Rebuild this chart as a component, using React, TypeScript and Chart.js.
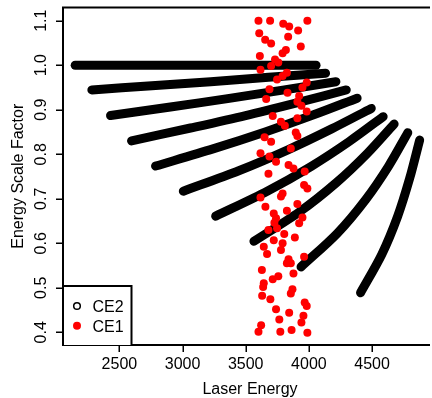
import React, { useEffect, useRef } from "react";
import { Chart, registerables } from "chart.js";

Chart.register(...registerables);

const xTicks = [2500, 3000, 3500, 4000, 4500];
const xTickLabels = ["2500", "3000", "3500", "4000", "4500"];
const yTicks = [0.4, 0.5, 0.6, 0.7, 0.8, 0.9, 1.0, 1.1];
const yTickLabels = ["0.4", "0.5", "0.6", "0.7", "0.8", "0.9", "1.0", "1.1"];
const seriesNames = ["CE2", "CE1"];
const xTitle = "Laser Energy";
const yTitle = "Energy Scale Factor";

// CE2: bands of points, read along each band (laser energy / scale factor)
const ce2LaserEnergy: number[][] = [
  [2150, 3100, 4057],
  [2282, 2757, 3223, 3681, 4132],
  [2430, 2904, 3357, 3793, 4214],
  [2596, 3063, 3499, 3909, 4296],
  [2786, 3241, 3654, 4032, 4382],
  [3006, 3445, 3834, 4180, 4494],
  [3262, 3670, 4019, 4321, 4588],
  [3565, 3923, 4217, 4463, 4675],
  [3938, 4225, 4449, 4630, 4783],
  [4409, 4577, 4702, 4798, 4877],
];
const ce2ScaleFactor: number[][] = [
  [1.0, 1.0, 1.0],
  [0.9445, 0.954, 0.963, 0.973, 0.982],
  [0.887, 0.906, 0.925, 0.944, 0.963],
  [0.83, 0.859, 0.887, 0.916, 0.9445],
  [0.7735, 0.812, 0.85, 0.888, 0.926],
  [0.717, 0.763, 0.81, 0.857, 0.903],
  [0.661, 0.717, 0.773, 0.829, 0.8845],
  [0.6045, 0.67, 0.736, 0.802, 0.868],
  [0.547, 0.6225, 0.698, 0.773, 0.8485],
  [0.489, 0.575, 0.66, 0.746, 0.832],
];

// CE1: individual points
const ce1LaserEnergy = [
  3601, 3693, 3797, 3844, 3988, 3607, 3915, 3836, 3654, 3701, 3936, 3612, 3818, 3792, 3732, 3758,
  3701, 3617, 3826, 3792, 3748, 3983, 3949, 3688, 3831, 3923, 3662, 3909, 3941, 3983, 3714, 3909,
  3779, 3810, 3896, 3909, 3649, 3701, 3617, 3688, 3857, 3740, 3839, 3878, 3967, 3680, 3988, 3962,
  3792, 3779, 3617, 3656, 3909, 3826, 3722, 3740, 3727, 3748, 3680, 3923, 3949, 3805, 3722, 3889,
  3643, 3669, 3792, 3779, 3962, 3839, 3857, 3826, 3878, 3628, 3714, 3758, 3643, 3638, 3870, 3857,
  3630, 3695, 3967, 3983, 3740, 3844, 3957, 3766, 3941, 3622, 3601, 3774, 3863, 3988,
];
const ce1ScaleFactor = [
  1.1, 1.1, 1.093, 1.087, 1.1, 1.072, 1.078, 1.064, 1.057, 1.049, 1.042, 1.021, 1.034, 1.027, 1.013, 1.006,
  0.998, 0.99, 0.983, 0.976, 0.968, 0.961, 0.95, 0.946, 0.938, 0.931, 0.924, 0.918, 0.909, 0.896, 0.886, 0.881,
  0.873, 0.864, 0.849, 0.841, 0.838, 0.828, 0.802, 0.795, 0.813, 0.783, 0.776, 0.768, 0.761, 0.756, 0.723, 0.731,
  0.712, 0.705, 0.703, 0.682, 0.688, 0.673, 0.667, 0.656, 0.646, 0.634, 0.63, 0.645, 0.658, 0.621, 0.607, 0.613,
  0.592, 0.576, 0.6, 0.585, 0.57, 0.564, 0.555, 0.555, 0.532, 0.54, 0.519, 0.526, 0.51, 0.502, 0.497, 0.487,
  0.482, 0.474, 0.467, 0.459, 0.452, 0.444, 0.437, 0.429, 0.422, 0.416, 0.401, 0.401, 0.405, 0.399,
];

const FONT = "16px 'Liberation Sans', Arial, Helvetica, sans-serif";

const rAxesPlugin = {
  id: "rAxes",
  afterDraw(chart: any) {
    const ctx = chart.ctx as CanvasRenderingContext2D;
    const { left, top, right, bottom } = chart.chartArea;
    const xs = chart.scales.x;
    const ys = chart.scales.y;
    ctx.save();
    ctx.strokeStyle = "#000";
    ctx.fillStyle = "#000";
    // box (left, top, bottom)
    ctx.lineWidth = 2;
    ctx.beginPath();
    ctx.moveTo(right + 2, top);
    ctx.lineTo(left, top);
    ctx.lineTo(left, bottom);
    ctx.lineTo(right + 2, bottom);
    ctx.stroke();
    // ticks
    ctx.lineWidth = 1.5;
    ctx.beginPath();
    xTicks.forEach((v) => {
      const px = Math.round(xs.getPixelForValue(v)) + 0.25;
      ctx.moveTo(px, bottom);
      ctx.lineTo(px, bottom + 7);
    });
    yTicks.forEach((v) => {
      const py = Math.round(ys.getPixelForValue(v)) + 0.25;
      ctx.moveTo(left, py);
      ctx.lineTo(left - 7, py);
    });
    ctx.stroke();
    // tick labels
    ctx.font = FONT;
    ctx.textAlign = "center";
    ctx.textBaseline = "alphabetic";
    xTicks.forEach((v, i) => {
      ctx.fillText(xTickLabels[i], xs.getPixelForValue(v), 369);
    });
    yTicks.forEach((v, i) => {
      ctx.save();
      ctx.translate(46, ys.getPixelForValue(v));
      ctx.rotate(-Math.PI / 2);
      ctx.fillText(yTickLabels[i], 0, 0);
      ctx.restore();
    });
    // titles
    ctx.fillText(xTitle, (left + 437) / 2, 394);
    ctx.save();
    ctx.translate(22.5, (top + bottom) / 2);
    ctx.rotate(-Math.PI / 2);
    ctx.fillText(yTitle, 0, 0);
    ctx.restore();
    // legend
    const lx0 = left, ly0 = 286, lx1 = 131.5, ly1 = bottom;
    ctx.fillStyle = "#fff";
    ctx.fillRect(lx0 + 1, ly0, lx1 - lx0 - 1, ly1 - ly0);
    ctx.lineWidth = 2;
    ctx.beginPath();
    ctx.moveTo(lx0, ly0);
    ctx.lineTo(lx1, ly0);
    ctx.lineTo(lx1, ly1);
    ctx.stroke();
    ctx.lineWidth = 1.5;
    ctx.beginPath();
    ctx.arc(77, 306, 3.3, 0, Math.PI * 2);
    ctx.stroke();
    ctx.fillStyle = "#ff0000";
    ctx.beginPath();
    ctx.arc(77, 325.7, 4, 0, Math.PI * 2);
    ctx.fill();
    ctx.fillStyle = "#000";
    ctx.textAlign = "left";
    ctx.fillText(seriesNames[0], 92.5, 311.7);
    ctx.fillText(seriesNames[1], 92.5, 331.5);
    ctx.restore();
  },
};

export default function App() {
  const ref = useRef<HTMLCanvasElement | null>(null);
  useEffect(() => {
    document.body.style.margin = "0";
    const canvas = ref.current;
    if (!canvas) return;
    const curveSets = ce2LaserEnergy.map((xsArr, i) => ({
      label: seriesNames[0],
      data: xsArr.map((x, j) => ({ x, y: ce2ScaleFactor[i][j] })),
      showLine: true,
      borderColor: "#000",
      backgroundColor: "#000",
      borderWidth: 9,
      borderCapStyle: "round" as const,
      borderJoinStyle: "round" as const,
      pointRadius: 0,
      tension: 0.3,
      order: 1,
    }));
    const chart = new Chart(canvas, {
      type: "scatter",
      data: {
        datasets: [
          {
            label: seriesNames[1],
            data: ce1LaserEnergy.map((x, i) => ({ x, y: ce1ScaleFactor[i] })),
            backgroundColor: "#ff0000",
            borderColor: "#ff0000",
            borderWidth: 0,
            pointRadius: 4,
            order: 0,
          },
          ...curveSets,
        ],
      },
      options: {
        responsive: false,
        animation: false,
        devicePixelRatio: 1,
        layout: { padding: { left: 63, top: 7.5, right: 0, bottom: 53 } },
        plugins: { legend: { display: false }, tooltip: { enabled: false } },
        scales: {
          x: { type: "linear", display: false, min: 2053.6, max: 4943, bounds: "data" },
          y: { type: "linear", display: false, min: 0.3715, max: 1.1297, bounds: "data" },
        },
      },
      plugins: [rAxesPlugin],
    });
    return () => chart.destroy();
  }, []);
  return (
    <div style={{ width: 432, height: 398, background: "#fff" }}>
      <canvas ref={ref} width={432} height={398} style={{ display: "block" }} />
    </div>
  );
}
